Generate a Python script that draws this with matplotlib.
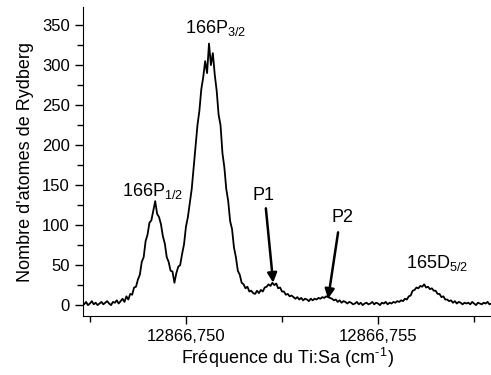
import numpy as np
import matplotlib
matplotlib.use('Agg')
import matplotlib.pyplot as plt
from matplotlib.ticker import FixedLocator, FuncFormatter

plt.rcParams['font.family'] = ['Liberation Sans', 'DejaVu Sans']
plt.rcParams['mathtext.default'] = 'regular'

# spectre : premier point, pas en frequence, comptages
freq_start = 12866.7473
freq_step = 0.00005
counts = [
    3, 1, 4, 0, 2, 5, 1, 3, 0, 2,
    4, 1, 3, 5, 2, 0, 4, 3, 6, 2,
    5, 8, 4, 11, 7, 14, 13, 22, 23, 32,
    38, 54, 60, 80, 88, 103, 106, 118, 130, 114,
    110, 101, 86, 77, 60, 54, 43, 42, 28, 40,
    48, 50, 64, 76, 98, 110, 128, 145, 172, 200,
    225, 243, 270, 285, 305, 290, 327, 300, 315, 288,
    268, 238, 225, 190, 172, 145, 130, 105, 95, 72,
    60, 43, 38, 28, 26, 21, 23, 17, 18, 15,
    14, 18, 15, 19, 17, 22, 23, 26, 24, 28,
    25, 27, 21, 22, 17, 17, 13, 14, 11, 12,
    10, 8, 10, 7, 9, 6, 8, 7, 5, 8,
    6, 8, 7, 9, 8, 10, 9, 11, 10, 9,
    8, 6, 7, 4, 6, 3, 5, 4, 2, 4,
    3, 1, 2, 4, 1, 3, 0, 2, 3, 1,
    2, 4, 1, 3, 2, 0, 3, 2, 4, 1,
    3, 2, 4, 3, 5, 4, 6, 5, 8, 7,
    11, 12, 18, 19, 22, 21, 24, 23, 26, 22,
    23, 20, 21, 18, 18, 14, 14, 10, 11, 7,
    7, 5, 6, 3, 5, 2, 4, 3, 1, 3,
    2, 3, 1, 4, 2, 0, 3, 2, 1, 3, 2, 4, 1, 2,
]
freq = freq_start + freq_step * np.arange(len(counts))

major_ticks = [12866.750, 12866.755]
minor_xticks = [12866.7475, 12866.7525, 12866.7575]

# etiquettes des raies : (texte, x, y)
peak_labels = [
    ('166P$_{1/2}$', 12866.74833, 137),
    ('166P$_{3/2}$', 12866.74997, 340),
    ('165D$_{5/2}$', 12866.75573, 46),
]
# fleches : (texte, x texte, y texte, x queue, y queue, x pointe, y pointe)
arrows = [
    ('P1', 12866.75174, 131, 12866.75208, 121, 12866.75227, 28),
    ('P2', 12866.75380, 104, 12866.75396, 91, 12866.75370, 8),
]

fig = plt.figure(figsize=(4.91, 3.75), dpi=100)
ax = fig.add_axes([0.169, 0.157, 0.831, 0.824])

ax.plot(freq, counts, color='black', lw=1.3)

for txt, x, y in peak_labels:
    ax.text(x, y, txt, fontsize=13, ha='left', va='baseline')

for txt, tx, ty, x0, y0, x1, y1 in arrows:
    ax.text(tx, ty, txt, fontsize=13, ha='left', va='baseline')
    ax.annotate('', xy=(x1, y1), xytext=(x0, y0),
                arrowprops=dict(arrowstyle='-|>', color='black', lw=1.8,
                                mutation_scale=14, shrinkA=0, shrinkB=0))

ax.set_xlim(12866.74732, 12866.75794)
ax.set_ylim(-13.75, 372.5)

ax.xaxis.set_major_locator(FixedLocator(major_ticks))
ax.xaxis.set_minor_locator(FixedLocator(minor_xticks))
ax.xaxis.set_major_formatter(FuncFormatter(lambda v, p: f'{v:.3f}'.replace('.', ',')))
ax.set_yticks(np.arange(0, 351, 50))
ax.set_yticks(np.arange(25, 351, 50), minor=True)

ax.spines['top'].set_visible(False)
ax.spines['right'].set_visible(False)
ax.tick_params(which='major', direction='out', length=6, width=1, labelsize=12)
ax.tick_params(which='minor', direction='out', length=4, width=1)

ax.set_xlabel('Fréquence du Ti:Sa (cm$^{\u2010\u200a1}$)', fontsize=13, labelpad=1)
ax.set_ylabel("Nombre d'atomes de Rydberg", fontsize=13, labelpad=6)

fig.savefig('out.png', dpi=100)
